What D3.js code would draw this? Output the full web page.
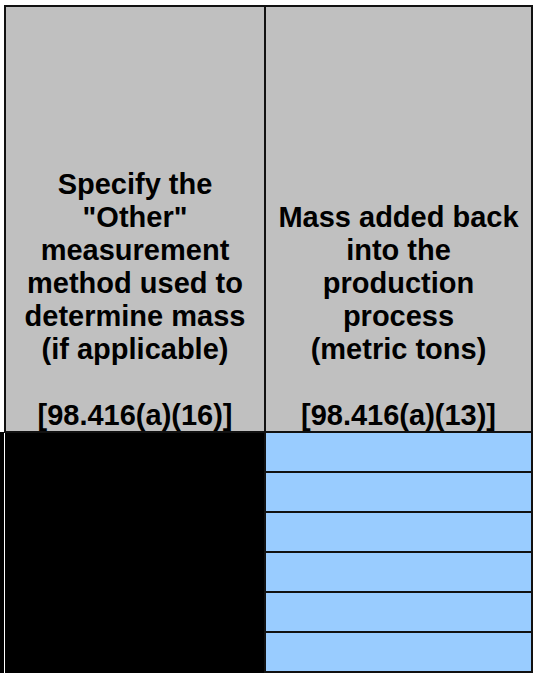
<!DOCTYPE html>
<html>
<head>
<meta charset="utf-8">
<script src="https://cdn.jsdelivr.net/npm/d3@7"></script>
<style>
  html, body { margin: 0; padding: 0; background: #fff; }
  svg { display: block; }
</style>
</head>
<body>
<div id="sheet"></div>
<script>
// header text per column (blank string = empty line)
const columns = ['other', 'massBack'];
const headerOther = ['Specify the', '"Other"', 'measurement', 'method used to', 'determine mass', '(if applicable)', '', '[98.416(a)(16)]'];
const headerMassBack = ['Mass added back', 'into the', 'production', 'process', '(metric tons)', '', '[98.416(a)(13)]'];
// data rows (all empty in the form)
const rows = ['', '', '', '', '', ''];
const cellFill = ['#000000', '#99ccff'];

function buildSheet() {
    const W = 534, H = 673;
    const top = 6, headerBottom = 432, bottom = 672;

    const svg = d3.select('#sheet').append('svg')
        .attr('width', W)
        .attr('height', H);

    // SCALES
    // column edges: index 0 -> left border, 1 -> divider, 2 -> right border
    const xEdge = d3.scaleLinear()
        .domain([0, 1, 2])
        .range([5, 265, 532]);
    const colX = c => xEdge(columns.indexOf(c));
    const colW = c => xEdge(columns.indexOf(c) + 1) - colX(c);

    const y = d3.scaleBand()
        .domain(d3.range(rows.length))
        .range([headerBottom, bottom]);

    // header background
    svg.append('rect')
        .attr('x', xEdge(0)).attr('y', top)
        .attr('width', xEdge(2) - xEdge(0)).attr('height', headerBottom - top)
        .attr('fill', '#c0c0c0');

    // left column body: one black merged cell
    svg.append('rect')
        .attr('x', 0).attr('y', headerBottom)
        .attr('width', xEdge(1)).attr('height', H - headerBottom)
        .attr('fill', cellFill[0]);
    svg.append('line')
        .attr('x1', 4.5).attr('x2', 4.5)
        .attr('y1', headerBottom).attr('y2', H)
        .attr('stroke', '#fff').attr('stroke-width', 1);

    // right column body rows
    svg.selectAll('.row')
        .data(rows)
        .enter()
        .append('rect')
        .attr('class', 'row')
        .attr('x', colX('massBack'))
        .attr('y', (d, i) => y(i))
        .attr('width', colW('massBack'))
        .attr('height', y.bandwidth())
        .attr('fill', cellFill[1])
        .attr('stroke', '#111')
        .attr('stroke-width', 2);

    // grid lines
    const g = svg.append('g').attr('stroke', '#111').attr('stroke-width', 2).attr('fill', 'none');
    g.append('rect')
        .attr('x', xEdge(0)).attr('y', top)
        .attr('width', xEdge(2) - xEdge(0)).attr('height', headerBottom - top);
    g.append('line')
        .attr('x1', xEdge(1)).attr('x2', xEdge(1))
        .attr('y1', top).attr('y2', bottom);

    // HEADER TEXT (bottom aligned)
    const lineH = 33;
    const baseline = 425;
    const headers = { other: headerOther, massBack: headerMassBack };
    columns.forEach(c => {
        const lines = headers[c];
        const t = svg.append('text')
            .attr('text-anchor', 'middle')
            .attr('font-family', '"Liberation Sans", Arial, sans-serif')
            .attr('font-weight', 'bold')
            .attr('font-size', 29)
            .attr('fill', '#000');
        lines.forEach((s, i) => {
            t.append('tspan')
                .attr('x', colX(c) + colW(c) / 2)
                .attr('y', baseline - (lines.length - 1 - i) * lineH)
                .text(s);
        });
    });
}

buildSheet();
</script>
</body>
</html>
